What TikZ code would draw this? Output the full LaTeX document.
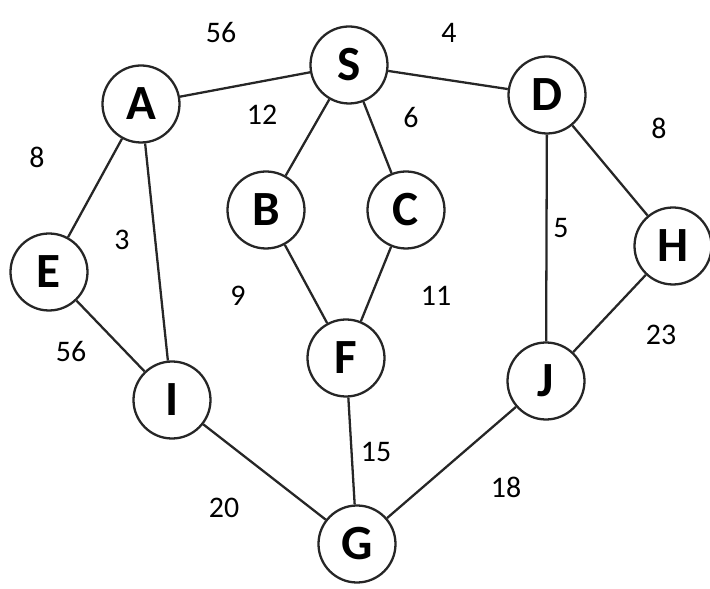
\documentclass[tikz,border=0pt]{standalone}
\usepackage{fontspec}
\setmainfont{Carlito}
\usepackage{tikz}
\usetikzlibrary{positioning, calc}

\begin{document}
\begin{tikzpicture}[
	vx/.style={circle, draw=black!85, line width=1.3pt, fill=white, minimum size=1.54cm, inner sep=0pt, font=\fontsize{28}{30}\selectfont\bfseries},
	wt/.style={inner sep=1pt, font=\fontsize{17}{19}\selectfont},
	ed/.style={black!85, line width=1.3pt}]
	\useasboundingbox (0,0) rectangle (14.2,11.78);
	% vertices
	\foreach \n/\x/\y in {S/6.98/10.48, A/2.82/9.70, D/10.94/9.88, B/5.32/7.58,
		C/8.12/7.58, E/0.98/6.34, H/13.46/6.86, F/6.92/4.62, I/3.44/3.78,
		J/10.92/4.16, G/7.14/0.90}
		{\node[vx] (\n) at (\x,\y) {\n};}
	% edges
	\foreach \a/\b in {A/S, S/D, S/B, S/C, A/E, A/I, D/H, D/J, B/F, C/F,
		E/I, H/J, F/G, I/G, J/G}
		{\draw[ed] (\a) -- (\b);}
	% weights
	\foreach \n/\x/\y/\w in {AS/4.42/11.12/56, SD/8.98/11.12/4, SB/5.24/9.48/12,
		SC/8.22/9.42/6, AE/0.74/8.64/8, AI/2.44/6.98/3, DH/13.18/9.22/8,
		DJ/11.22/7.22/5, BF/4.76/5.86/9, CF/8.72/5.86/11, EI/1.42/4.74/56,
		HJ/13.22/5.08/23, FG/7.52/2.74/15, IG/4.48/1.62/20, JG/10.12/2.04/18}
		{\node[wt] (w\n) at (\x,\y) {\w};}
\end{tikzpicture}
\end{document}
